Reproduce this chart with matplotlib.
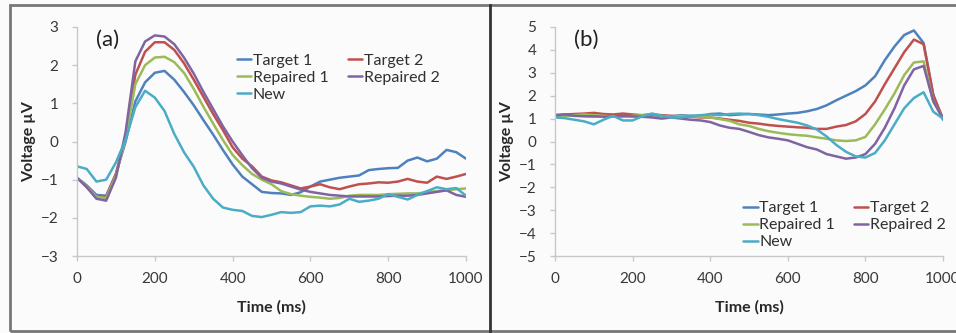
import matplotlib
matplotlib.use("Agg")
import matplotlib.pyplot as plt
from matplotlib.patches import Rectangle
import numpy as np

plt.rcParams['font.family'] = ['Lato', 'DejaVu Sans']

# time axis (ms), sampled every 25 ms
time_ms = list(range(0, 1001, 25))

names = ['Target 1', 'Target 2', 'Repaired 1', 'Repaired 2', 'New']
colors = ['#4F81BD', '#C0504D', '#9BBB59', '#8064A2', '#4BACC6']

# panel (a)
a_target1 = [-0.95, -1.15, -1.40, -1.42, -0.85, 0.00, 1.05, 1.55, 1.80, 1.85,
             1.62, 1.30, 0.95, 0.56, 0.18, -0.22, -0.60, -0.92, -1.12, -1.32,
             -1.35, -1.36, -1.40, -1.33, -1.18, -1.05, -1.00, -0.95, -0.92, -0.89,
             -0.75, -0.72, -0.70, -0.69, -0.50, -0.42, -0.52, -0.45, -0.22, -0.28,
             -0.45]
a_target2 = [-0.95, -1.18, -1.45, -1.45, -0.85, 0.15, 1.75, 2.35, 2.60, 2.60,
             2.40, 2.05, 1.62, 1.17, 0.72, 0.30, -0.15, -0.45, -0.65, -0.92,
             -1.02, -1.07, -1.15, -1.23, -1.18, -1.12, -1.20, -1.25, -1.18, -1.12,
             -1.10, -1.07, -1.08, -1.05, -0.98, -1.05, -1.08, -0.92, -0.98, -0.92,
             -0.85]
a_repaired1 = [-0.95, -1.18, -1.45, -1.48, -0.90, 0.10, 1.50, 2.00, 2.20, 2.22,
               2.08, 1.80, 1.38, 0.91, 0.47, 0.04, -0.35, -0.62, -0.85, -1.00,
               -1.12, -1.30, -1.38, -1.42, -1.45, -1.47, -1.50, -1.48, -1.42, -1.40,
               -1.40, -1.40, -1.38, -1.37, -1.36, -1.36, -1.33, -1.30, -1.28, -1.25,
               -1.23]
a_repaired2 = [-0.95, -1.20, -1.50, -1.55, -0.95, 0.25, 2.10, 2.62, 2.78, 2.75,
               2.55, 2.20, 1.78, 1.30, 0.85, 0.40, 0.00, -0.36, -0.70, -0.95,
               -1.05, -1.10, -1.18, -1.26, -1.32, -1.36, -1.40, -1.42, -1.44, -1.44,
               -1.44, -1.44, -1.43, -1.42, -1.42, -1.40, -1.36, -1.32, -1.28, -1.40,
               -1.45]
a_new = [-0.65, -0.72, -1.05, -1.00, -0.55, 0.05, 0.90, 1.33, 1.15, 0.80,
         0.20, -0.28, -0.66, -1.15, -1.50, -1.73, -1.79, -1.82, -1.95, -1.98,
         -1.92, -1.85, -1.87, -1.85, -1.70, -1.68, -1.70, -1.65, -1.50, -1.58,
         -1.55, -1.50, -1.38, -1.45, -1.52, -1.40, -1.30, -1.20, -1.25, -1.22,
         -1.42]

# panel (b)
b_target1 = [1.10, 1.12, 1.15, 1.12, 1.10, 1.12, 1.15, 1.12, 1.10, 1.12,
             1.15, 1.12, 1.10, 1.15, 1.12, 1.10, 1.20, 1.22, 1.15, 1.18,
             1.20, 1.18, 1.15, 1.18, 1.22, 1.25, 1.32, 1.42, 1.58, 1.80,
             2.00, 2.20, 2.45, 2.85, 3.55, 4.15, 4.65, 4.85, 4.30, 2.05,
             0.95]
b_target2 = [1.15, 1.18, 1.20, 1.22, 1.25, 1.20, 1.18, 1.22, 1.18, 1.15,
             1.18, 1.15, 1.12, 1.10, 1.08, 1.05, 1.05, 1.00, 0.95, 0.90,
             0.82, 0.78, 0.72, 0.68, 0.65, 0.62, 0.60, 0.55, 0.55, 0.65,
             0.72, 0.88, 1.20, 1.75, 2.50, 3.20, 3.90, 4.45, 4.25, 2.00,
             1.00]
b_repaired1 = [1.15, 1.12, 1.15, 1.18, 1.15, 1.12, 1.10, 1.08, 1.12, 1.15,
               1.20, 1.12, 1.08, 1.12, 1.10, 1.08, 1.05, 0.98, 0.90, 0.75,
               0.68, 0.55, 0.45, 0.38, 0.32, 0.28, 0.25, 0.18, 0.12, 0.05,
               0.02, 0.05, 0.20, 0.75, 1.40, 2.10, 2.90, 3.45, 3.50, 1.75,
               1.00]
b_repaired2 = [1.15, 1.18, 1.12, 1.10, 1.10, 1.08, 1.10, 1.12, 1.10, 1.08,
               1.05, 1.00, 1.05, 1.00, 0.95, 0.92, 0.85, 0.70, 0.60, 0.55,
               0.42, 0.28, 0.18, 0.12, 0.05, -0.10, -0.25, -0.35, -0.55, -0.65,
               -0.75, -0.70, -0.55, -0.10, 0.60, 1.45, 2.45, 3.15, 3.30, 1.75,
               1.00]
b_new = [1.05, 1.02, 0.95, 0.88, 0.75, 0.95, 1.12, 0.92, 0.92, 1.10,
         1.22, 1.12, 1.05, 1.05, 1.12, 1.15, 1.18, 1.15, 1.20, 1.22,
         1.20, 1.15, 1.08, 0.98, 0.90, 0.82, 0.70, 0.52, 0.22, -0.15,
         -0.45, -0.65, -0.70, -0.50, 0.05, 0.75, 1.45, 1.90, 2.15, 1.30,
         1.00]

panel_a = [a_target1, a_target2, a_repaired1, a_repaired2, a_new]
panel_b = [b_target1, b_target2, b_repaired1, b_repaired2, b_new]

W, H = 956, 333
fig = plt.figure(figsize=(W / 100, H / 100), dpi=100)
fig.patch.set_facecolor('#fbfbfb')

# outer frame and divider between the two panels
fig.patches.append(Rectangle((10 / W, 2 / H), 1.2, 1 - 7 / H, transform=fig.transFigure,
                             fill=False, edgecolor='#777777', linewidth=2.0))
fig.add_artist(plt.Line2D([489.5 / W, 489.5 / W], [2 / H, 1 - 5 / H],
                          transform=fig.transFigure, color='#333333', linewidth=2.0))

ax_a = fig.add_axes([77 / W, 1 - 256 / H, 389 / W, 229 / H])
ax_b = fig.add_axes([555 / W, 1 - 256 / H, 388 / W, 229 / H])


def style(ax, ylim):
    ax.set_facecolor('none')
    ax.set_xlim(0, 1000)
    ax.set_ylim(*ylim)
    ax.set_xticks(np.arange(0, 1001, 200))
    ax.set_yticks(np.arange(ylim[0], ylim[1] + 1, 1))
    for s in ['top', 'right']:
        ax.spines[s].set_visible(False)
    for s in ['left', 'bottom']:
        ax.spines[s].set_color('#c8c8c8')
        ax.spines[s].set_linewidth(1.0)
    ax.tick_params(axis='both', colors='#c8c8c8', labelcolor='#383838',
                   length=3.5, width=1.0, labelsize=11)
    ax.tick_params(axis='y', pad=10)
    ax.tick_params(axis='x', pad=8)
    ax.set_xlabel('Time (ms)', fontsize=11.5, fontweight='bold', color='#282828', labelpad=10)
    ax.set_ylabel('Voltage µV', fontsize=11.5, fontweight='bold', color='#282828', labelpad=3)


for ax, series, ylim, tag in [(ax_a, panel_a, (-3, 3), '(a)'), (ax_b, panel_b, (-5, 5), '(b)')]:
    for name, vals, c in zip(names, series, colors):
        ax.plot(time_ms, vals, color=c, linewidth=1.8, label=name, solid_capstyle='round')
    style(ax, ylim)
    ax.text(0.05, 0.945, tag, transform=ax.transAxes, fontsize=16, color='#202020',
            ha='left', va='center')

# legend filled row by row: Target 1 | Target 2 / Repaired 1 | Repaired 2 / New
order = [0, 2, 4, 1, 3]
leg_kw = dict(ncol=2, frameon=False, fontsize=11.5, handlelength=0.9, handletextpad=0.1,
              columnspacing=1.2, labelspacing=0.18, borderaxespad=0, borderpad=0)
legs = []
for ax, anchor in [(ax_a, (0.411, 0.885)), (ax_b, (0.485, 0.24))]:
    h, l = ax.get_legend_handles_labels()
    legs.append(ax.legend([h[i] for i in order], [l[i] for i in order],
                          loc='upper left', bbox_to_anchor=anchor, **leg_kw))
for leg in legs:
    for t in leg.get_texts():
        t.set_color('#303030')

fig.savefig('out.png', dpi=100, facecolor=fig.get_facecolor())
